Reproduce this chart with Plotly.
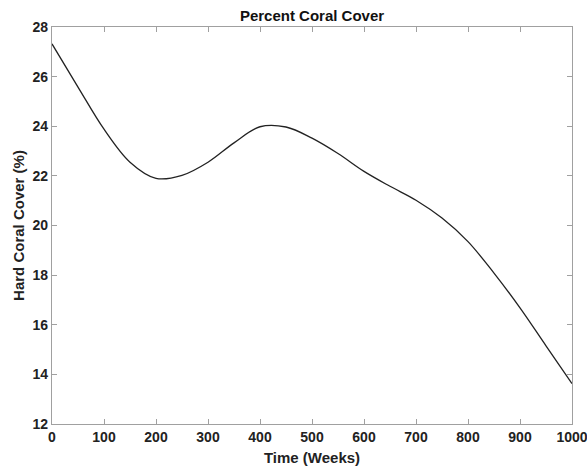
import plotly.graph_objects as go

# Data
time_weeks = [0, 50, 100, 150, 200, 250, 300, 350, 400, 450, 500, 550,
              600, 650, 700, 750, 800, 850, 900, 950, 1000]
coral_cover = [27.32, 25.58, 23.88, 22.55, 21.90, 22.02, 22.55, 23.33, 23.98, 23.97, 23.52, 22.90,
               22.18, 21.58, 21.02, 20.30, 19.35, 18.08, 16.68, 15.15, 13.63]

x_ticks = [0, 100, 200, 300, 400, 500, 600, 700, 800, 900, 1000]
y_ticks = [12, 14, 16, 18, 20, 22, 24, 26, 28]

FONT = "Liberation Sans"

fig = go.Figure()
fig.add_trace(go.Scatter(
    x=time_weeks, y=coral_cover, mode="lines",
    line=dict(color="#222222", width=1.3, shape="spline", smoothing=1.0),
    showlegend=False, hoverinfo="skip",
))

axis_common = dict(
    showgrid=False, zeroline=False, showline=True, linecolor="#a0a0a0", linewidth=1.2,
    mirror="ticks", ticks="inside", ticklen=5, tickcolor="#a0a0a0", tickwidth=1,
    tickfont=dict(family=FONT, size=14, color="#222222", weight="bold"),
    automargin=False,
)

fig.update_layout(
    width=587, height=466,
    margin=dict(l=52, r=15, t=27, b=42),
    paper_bgcolor="white", plot_bgcolor="white",
    title=dict(text="<b>Percent Coral Cover</b>", x=0.5, xanchor="center", xref="paper",
               y=1, yref="container", yanchor="top", pad=dict(t=10),
               font=dict(family=FONT, size=15, color="#111111")),
    xaxis=dict(range=[0, 1000], tickvals=x_ticks, ticktext=[str(v) for v in x_ticks],
               ticklabeloverflow="allow",
               title=dict(text="<b>Time (Weeks)</b>", standoff=10,
                          font=dict(family=FONT, size=15, color="#222222")),
               **axis_common),
    yaxis=dict(range=[12, 28], tickvals=y_ticks, ticktext=[str(v) for v in y_ticks],
               ticklabeloverflow="allow",
               title=dict(text="<b>Hard Coral Cover (%)</b>", standoff=4,
                          font=dict(family=FONT, size=15, color="#222222")),
               **axis_common),
)

fig.write_html("out.html")
